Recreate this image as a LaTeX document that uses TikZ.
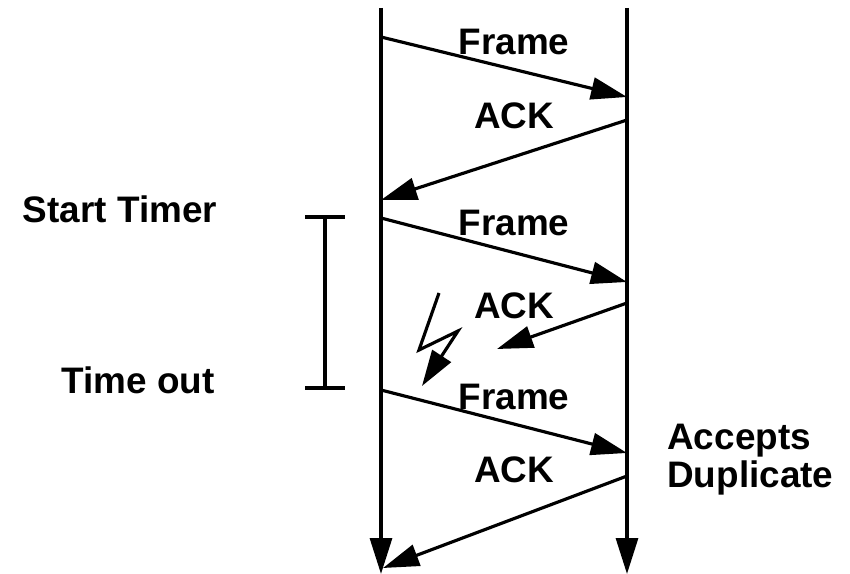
\documentclass[tikz,border=0pt]{standalone}
\usepackage{fontspec}
\setmainfont{Liberation Sans}
\usetikzlibrary{arrows.meta}
\tikzset{
  seta/.style={-{Triangle[length=0.72cm,width=0.44cm]}, line width=1.8pt},
  linha/.style={line width=1.8pt},
  rotulo/.style={font=\fontsize{21}{21.5}\selectfont\bfseries, inner sep=0pt},
}

\begin{document}
\begin{tikzpicture}[x=0.02cm, y=-0.02cm]
\useasboundingbox (0,0) rectangle (850,574);

% linhas de tempo
\coordinate (emTopo) at (381,8);
\coordinate (emFim) at (381,574);
\coordinate (reTopo) at (627,8);
\coordinate (reFim) at (627,574);
\draw[seta] (emTopo) -- (emFim);
\draw[seta] (reTopo) -- (reFim);

% mensagens
\coordinate (f1a) at (381,37);  \coordinate (f1b) at (627,97);
\coordinate (a1a) at (627,120); \coordinate (a1b) at (381,200);
\coordinate (f2a) at (381,218); \coordinate (f2b) at (627,282);
\coordinate (a2a) at (627,303); \coordinate (a2b) at (497,349);
\coordinate (f3a) at (381,390); \coordinate (f3b) at (627,453);
\coordinate (a3a) at (627,476); \coordinate (a3b) at (383,568);

\draw[seta] (f1a) -- (f1b);
\draw[seta] (a1a) -- (a1b);
\draw[seta] (f2a) -- (f2b);
\draw[seta] (a2a) -- (a2b);
\draw[seta] (f3a) -- (f3b);
\draw[seta] (a3a) -- (a3b);

\node[rotulo] (frame1) at (514,42) {Frame};
\node[rotulo] (ack1) at (514,116) {ACK};
\node[rotulo] (frame2) at (514,223) {Frame};
\node[rotulo] (ack2) at (514,306) {ACK};
\node[rotulo] (frame3) at (514,397) {Frame};
\node[rotulo] (ack3) at (514,470) {ACK};

% temporizador
\coordinate (tmTopo) at (325,217);
\coordinate (tmFim) at (325,388);
\draw[linha] (tmTopo) -- (tmFim);
\draw[linha] ([xshift=-0.4cm]tmTopo) -- ([xshift=0.4cm]tmTopo);
\draw[linha] ([xshift=-0.4cm]tmFim) -- ([xshift=0.4cm]tmFim);

\node[rotulo] (inicio) at (120,209) {Start Timer};
\node[rotulo] (estouro) at (138,380) {Time out};
\node[rotulo, anchor=north west, align=left] (aceita) at (667,424) {Accepts\\Duplicate};

% perda
\coordinate (r1) at (439,293);
\coordinate (r2) at (419,350);
\coordinate (r3) at (458,331);
\coordinate (r4) at (422,386);
\draw[seta] (r1) -- (r2) -- (r3) -- (r4);

\end{tikzpicture}
\end{document}
